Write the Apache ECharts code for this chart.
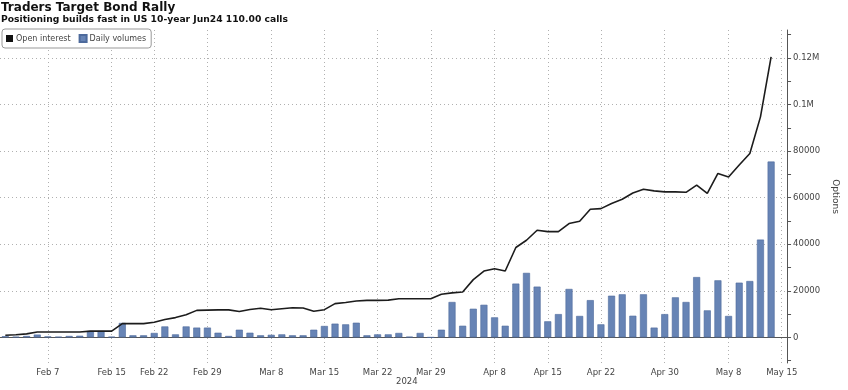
<!DOCTYPE html>
<html><head><meta charset="utf-8">
<script src="https://cdn.jsdelivr.net/npm/echarts@6/dist/echarts.min.js"></script>
<style>html,body{margin:0;padding:0;background:#fff}#c{width:848px;height:390px}</style>
</head><body><div id="c"></div>
<script>
const dates = [
  'Feb 1','Feb 2','Feb 5','Feb 6','Feb 7','Feb 8','Feb 9','Feb 12','Feb 13','Feb 14','Feb 15','Feb 16',
  'Feb 20','Feb 21','Feb 22','Feb 23','Feb 26','Feb 27','Feb 28','Feb 29',
  'Mar 1','Mar 4','Mar 5','Mar 6','Mar 7','Mar 8','Mar 11','Mar 12','Mar 13','Mar 14','Mar 15',
  'Mar 18','Mar 19','Mar 20','Mar 21','Mar 22','Mar 25','Mar 26','Mar 27','Mar 28','Mar 29',
  'Apr 1','Apr 2','Apr 3','Apr 4','Apr 5','Apr 8','Apr 9','Apr 10','Apr 11','Apr 12',
  'Apr 15','Apr 16','Apr 17','Apr 18','Apr 19','Apr 22','Apr 23','Apr 24','Apr 25','Apr 26',
  'Apr 29','Apr 30','May 1','May 2','May 3','May 6','May 7','May 8','May 9','May 10',
  'May 13','May 14','May 15'
];
const labelDates = ['Feb 7','Feb 15','Feb 22','Feb 29','Mar 8','Mar 15','Mar 22','Mar 29',
  'Apr 8','Apr 15','Apr 22','Apr 30','May 8','May 15'];
const openInterest = [
  900,1100,1500,2300,2300,2300,2300,2300,2700,2700,2700,5900,
  5900,5900,6500,7700,8500,9700,11600,11700,
  11800,11800,11100,12000,12500,11900,12300,12700,12600,11200,11900,
  14500,15000,15600,15900,15900,16000,16600,16600,16600,16600,
  18500,19100,19500,24800,28500,29500,28500,38600,41700,46000,
  45400,45400,48900,49900,55000,55300,57500,59300,62000,63600,
  62900,62500,62500,62300,65400,61800,70400,68900,74000,79000,
  94700,120500,null
];
const dailyVolumes = [
  500,300,600,1200,400,300,600,700,2700,2700,300,6200,
  900,900,1900,4700,1300,4700,4200,4200,
  2000,600,3300,2000,900,1100,1300,900,900,3300,4900,
  5900,5600,6300,900,1300,1300,1900,300,1900,0,
  3300,15200,5000,12300,14000,8600,5000,23100,27700,21800,
  6900,10000,20800,9200,16000,5600,17900,18500,9300,18500,
  4200,10000,17200,15200,25900,11600,24500,9200,23500,24200,
  42000,75500,null
];
const yTickValues = [-10000,0,10000,20000,30000,40000,50000,60000,70000,80000,90000,100000,110000,120000,130000];
const yLabelValues = [0,20000,40000,60000,80000,100000,120000];

const chart = echarts.init(document.getElementById('c'), null, {renderer: 'canvas'});
const isLabel = (i) => labelDates.indexOf(dates[i]) >= 0;
const fmtY = (v) => v >= 100000 ? (v / 1000000) + 'M' : String(v);
const font = 'DejaVu Sans';
chart.setOption({
  animation: false,
  title: [
    {text: 'Traders Target Bond Rally', left: 1, top: 2, padding: 0,
     textStyle: {fontFamily: font, fontWeight: 'bold', fontSize: 12, color: '#111'}},
    {text: 'Positioning builds fast in US 10-year Jun24 110.00 calls', left: 1, top: 15, padding: 0,
     textStyle: {fontFamily: font, fontWeight: 'bold', fontSize: 9.2, color: '#111'}}
  ],
  legend: {
    left: 2, top: 29, padding: [5, 5, 5, 4], itemGap: 8, itemWidth: 7, itemHeight: 7,
    borderColor: '#999', borderWidth: 1, borderRadius: 3, backgroundColor: '#fff',
    icon: 'rect', data: ['Open interest', 'Daily volumes'],
    textStyle: {fontFamily: font, fontSize: 8, color: '#444', padding: [0, 0, 0, -2]}
  },
  grid: {left: 0, right: 54, top: 30, bottom: 27},
  xAxis: {
    type: 'category', data: dates, boundaryGap: true,
    axisLine: {lineStyle: {color: '#555', width: 1}},
    axisTick: {interval: 0, alignWithLabel: true, length: 3, lineStyle: {color: '#555'}},
    axisLabel: {interval: isLabel, fontFamily: font, fontSize: 8.5, color: '#444', margin: 5},
    splitLine: {show: true, interval: isLabel, alignWithLabel: true,
                lineStyle: {type: [1, 3], color: '#b0b0b0'}}
  },
  yAxis: {
    type: 'value', position: 'right', min: -11000, max: 132000,
    name: 'Options', nameLocation: 'middle', nameGap: 42, nameRotate: -90,
    nameTextStyle: {fontFamily: font, fontSize: 9, color: '#444'},
    axisLine: {show: true, lineStyle: {color: '#555'}},
    axisTick: {show: true, length: 4, customValues: yTickValues, lineStyle: {color: '#555'}},
    axisLabel: {customValues: yLabelValues, formatter: fmtY, fontFamily: font, fontSize: 8.5, color: '#444', margin: 6},
    splitLine: {show: true, lineStyle: {type: [1, 3], color: ['rgba(0,0,0,0)', '#b0b0b0']}}
  },
  graphic: [{type: 'text', left: 396, top: 377,
    style: {text: '2024', font: '8.5px "DejaVu Sans"', fill: '#444'}}],
  series: [
    {name: 'Daily volumes', type: 'bar', data: dailyVolumes, barWidth: '66%',
     itemStyle: {color: '#6784b5', borderColor: '#4d6a9c', borderWidth: 0.6}},
    {name: 'Open interest', type: 'line', data: openInterest, symbol: 'none', z: 5,
     itemStyle: {color: '#111'}, lineStyle: {color: '#1c1c1c', width: 1.6}}
  ]
});
</script></body></html>
